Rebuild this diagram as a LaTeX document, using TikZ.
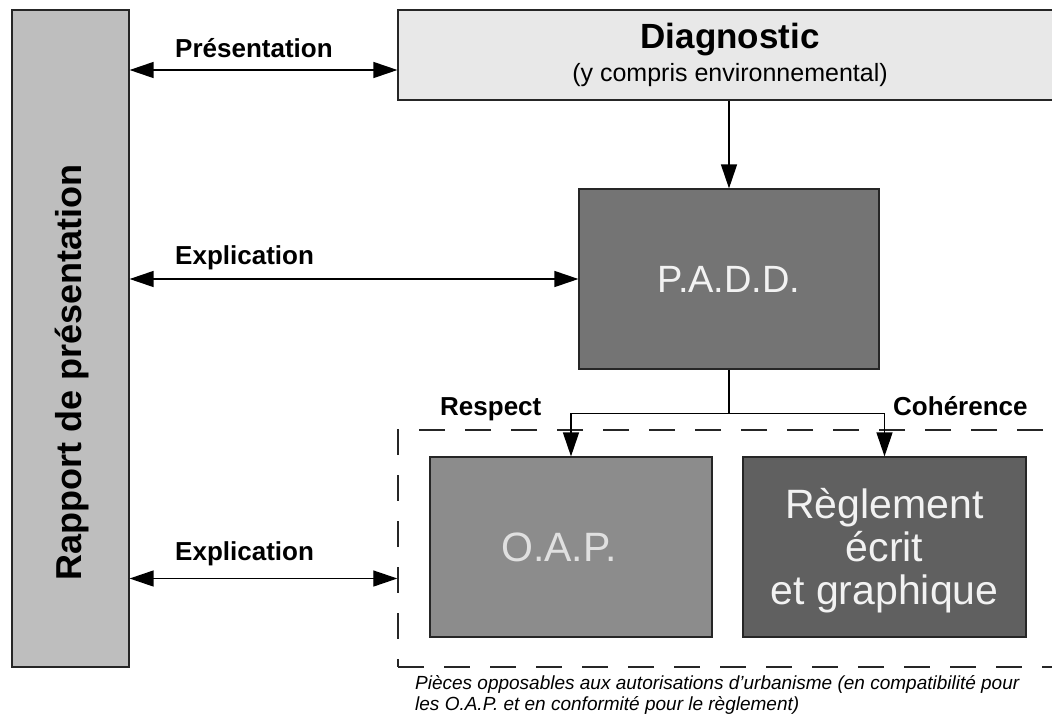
\documentclass[tikz,border=0pt]{standalone}
\usepackage{fontspec}
\setmainfont{Liberation Sans}
\usepackage{tikz}
\usetikzlibrary{positioning,arrows.meta,calc}

\definecolor{grisrapport}{RGB}{190,190,190}
\definecolor{grisdiag}{RGB}{232,232,232}
\definecolor{grispadd}{RGB}{116,116,116}
\definecolor{grisoap}{RGB}{140,140,140}
\definecolor{grisregl}{RGB}{96,96,96}

\tikzset{
  bloc/.style={draw=black!85, line width=1.2pt, inner sep=0pt},
  fleche/.style={line width=1.3pt, -{Triangle[length=24pt,width=16pt]}},
  doublefleche/.style={line width=1.3pt, {Triangle[length=24pt,width=16pt]}-{Triangle[length=24pt,width=16pt]}},
  lbl/.style={font=\fontsize{26}{30}\selectfont\bfseries, inner sep=0pt, anchor=base west},
}

\begin{document}
\begin{tikzpicture}[x=1pt,y=-1pt]
\useasboundingbox (0,0) rectangle (1052,716);
\clip (0,0) rectangle (1052,716);
\fill[white] (0,0) rectangle (1052,716);

% blocs
\node[bloc, fill=grisrapport, minimum width=117pt, minimum height=657pt] (rapport) at (70.5,338.5) {};
\node[rotate=90, font=\fontsize{36}{40}\selectfont\bfseries] (titre) at (72,372) {Rapport de présentation};
\node[bloc, fill=grisdiag, minimum width=664pt, minimum height=90pt, align=center] (diag) at (730,55)
  {{\fontsize{35}{36}\selectfont\bfseries Diagnostic}\\[6pt]{\fontsize{25}{26}\selectfont (y compris environnemental)}};
\node[bloc, fill=grispadd, minimum width=300pt, minimum height=180pt, text=white!95!black,
  font=\fontsize{38}{42}\selectfont] (padd) at (729,279) {P.A.D.D.};
\node[draw=black!85, line width=1.4pt, dash pattern=on 26pt off 20pt, minimum width=664pt, minimum height=237pt] (cadre) at (730,548.5) {};
\node[bloc, fill=grisoap, minimum width=282pt, minimum height=180pt] (oap) at (571,547) {};
\node[text=white!88!black, font=\fontsize{41}{44}\selectfont] (toap) at ([xshift=-12pt]oap.center) {O.A.P.};
\node[bloc, fill=grisregl, minimum width=283pt, minimum height=180pt] (regl) at (884.5,547) {};
\node[text=white!95!black, align=center, font=\fontsize{41}{43}\selectfont] (tregl) at ([yshift=-4pt]regl.center)
  {Règlement\\écrit\\et graphique};

% liaisons
\coordinate (p1) at ([yshift=-15pt]diag.west);
\coordinate (p3) at ([yshift=-30pt]cadre.west);
\draw[doublefleche] (rapport.east |- p1) -- (p1);
\draw[doublefleche] (rapport.east |- padd.west) -- (padd.west);
\draw[doublefleche] (rapport.east |- p3) -- (p3);
\draw[fleche] (diag.south -| padd.north) -- (padd.north);
\coordinate (fourche) at ($(padd.south)+(0,44)$);
\draw[line width=1.3pt] (padd.south) -- (fourche);
\draw[fleche] (fourche) -| (oap.north);
\draw[fleche] (fourche) -| (regl.north);

% etiquettes
\node[lbl] (lpres) at (175,57) {Présentation};
\node[lbl] (lexp1) at (175,264) {Explication};
\node[lbl] (lexp2) at (175,560) {Explication};
\node[lbl] (lresp) at (440,415) {Respect};
\node[lbl] (lcoh) at (893,415) {Cohérence};
\node[anchor=north west, align=left, inner sep=0pt, font=\fontsize{19}{21}\selectfont\itshape] (legende) at (415,675)
  {Pièces opposables aux autorisations d'urbanisme (en compatibilité pour\\les O.A.P. et en conformité pour le règlement)};
\end{tikzpicture}
\end{document}
